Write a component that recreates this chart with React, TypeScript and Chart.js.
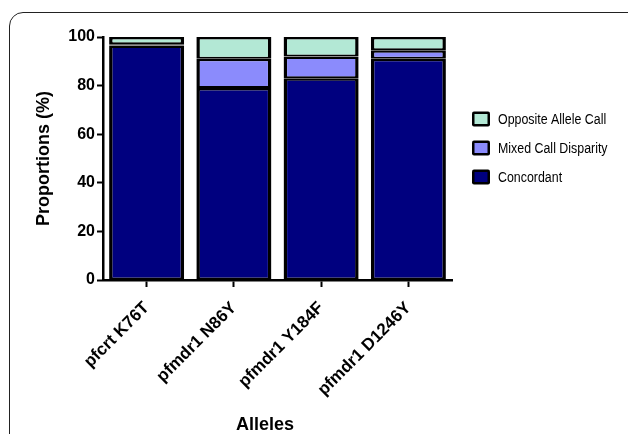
import React, { useEffect, useRef } from "react";
import { Chart, registerables } from "chart.js";

Chart.register(...registerables);

const categories = ["pfcrt K76T", "pfmdr1 N86Y", "pfmdr1 Y184F", "pfmdr1 D1246Y"];
const concordant = [96.5, 79, 83, 91];
const mixedCall = [0.5, 12, 9, 3.5];
const oppositeCall = [3, 9, 8, 5.5];
const yTicks = [0, 20, 40, 60, 80, 100];
const yTitle = "Proportions (%)";
const xTitle = "Alleles";

const FONT = "'Liberation Sans', Arial, sans-serif";

const legendPlugin = {
  id: "customLegend",
  afterDraw(chart: any) {
    const { ctx, chartArea } = chart;
    const ds = chart.data.datasets.slice().reverse();
    ctx.save();
    ds.forEach((d: any, i: number) => {
      const y = chartArea.top + 82 + i * 29;
      const bx = chartArea.right + 20;
      ctx.fillStyle = "#000";
      ctx.beginPath();
      ctx.roundRect(bx, y - 7.5, 18, 15, 2);
      ctx.fill();
      ctx.fillStyle = d.backgroundColor;
      ctx.fillRect(bx + 2.5, y - 5, 13, 10);
      ctx.save();
      ctx.translate(bx + 26, y);
      ctx.scale(0.8, 1);
      ctx.fillStyle = "#000";
      ctx.font = `15.5px ${FONT}`;
      ctx.textBaseline = "middle";
      ctx.textAlign = "left";
      ctx.fillText(d.label, 0, 1);
      ctx.restore();
    });
    ctx.fillStyle = "#000";
    ctx.font = `bold 18px ${FONT}`;
    ctx.textAlign = "center";
    ctx.textBaseline = "middle";
    ctx.fillText(xTitle, 265, chart.height - 9);
    ctx.restore();
  },
};

export default function App() {
  const ref = useRef<HTMLCanvasElement | null>(null);
  useEffect(() => {
    if (!ref.current) return;
    const border = { top: 2.5, bottom: 2, left: 3.5, right: 3.5 };
    const chart = new Chart(ref.current, {
      type: "bar",
      data: {
        labels: categories,
        datasets: [
          { label: "Concordant", data: concordant, backgroundColor: "#00007f", borderColor: "#000", borderWidth: border, borderSkipped: false, inflateAmount: 0 },
          { label: "Mixed Call Disparity", data: mixedCall, backgroundColor: "#8b8bfc", borderColor: "#000", borderWidth: border, borderSkipped: false, inflateAmount: 0 },
          { label: "Opposite Allele Call", data: oppositeCall, backgroundColor: "#b3e8d5", borderColor: "#000", borderWidth: border, borderSkipped: false, inflateAmount: 0 },
        ],
      },
      options: {
        responsive: false,
        animation: false,
        barPercentage: 0.86,
        categoryPercentage: 1,
        layout: { padding: { top: 37, right: 176, left: 0, bottom: 0 } },
        plugins: { legend: { display: false }, tooltip: { enabled: false } },
        scales: {
          x: {
            stacked: true,
            offset: true,
            afterFit: (s: any) => { s.height = 154; },
            grid: { display: true, drawOnChartArea: false, offset: false, tickLength: 7, tickWidth: 2, tickColor: "#000" },
            border: { display: true, color: "#000", width: 2.5 },
            ticks: { color: "#000", font: { family: FONT, size: 17, weight: "bold" }, minRotation: 45, maxRotation: 45, padding: 11 },
          },
          y: {
            stacked: true,
            min: 0,
            max: 100,
            afterFit: (s: any) => { s.width = 103; },
            afterBuildTicks: (s: any) => { s.ticks = yTicks.map((v) => ({ value: v })); },
            grid: { display: true, drawOnChartArea: false, tickLength: 6, tickWidth: 2, tickColor: "#000" },
            border: { display: true, color: "#000", width: 2.5 },
            ticks: { color: "#000", font: { family: FONT, size: 16, weight: "bold" }, padding: 2 },
            title: { display: true, text: yTitle, color: "#000", font: { family: FONT, size: 18, weight: "bold" }, padding: { top: 33, bottom: 0 } },
          },
        },
      },
      plugins: [legendPlugin],
    } as any);
    return () => chart.destroy();
  }, []);
  return (
    <div style={{ position: "absolute", left: 0, top: 0, width: 628, height: 434, overflow: "hidden", background: "#fff" }}>
      <div style={{ position: "absolute", left: 9, top: 12, width: 660, height: 470, border: "1.5px solid #222", borderRadius: 14, boxSizing: "border-box" }} />
      <canvas ref={ref} width={628} height={434} style={{ position: "absolute", left: 0, top: 0 }} />
    </div>
  );
}
